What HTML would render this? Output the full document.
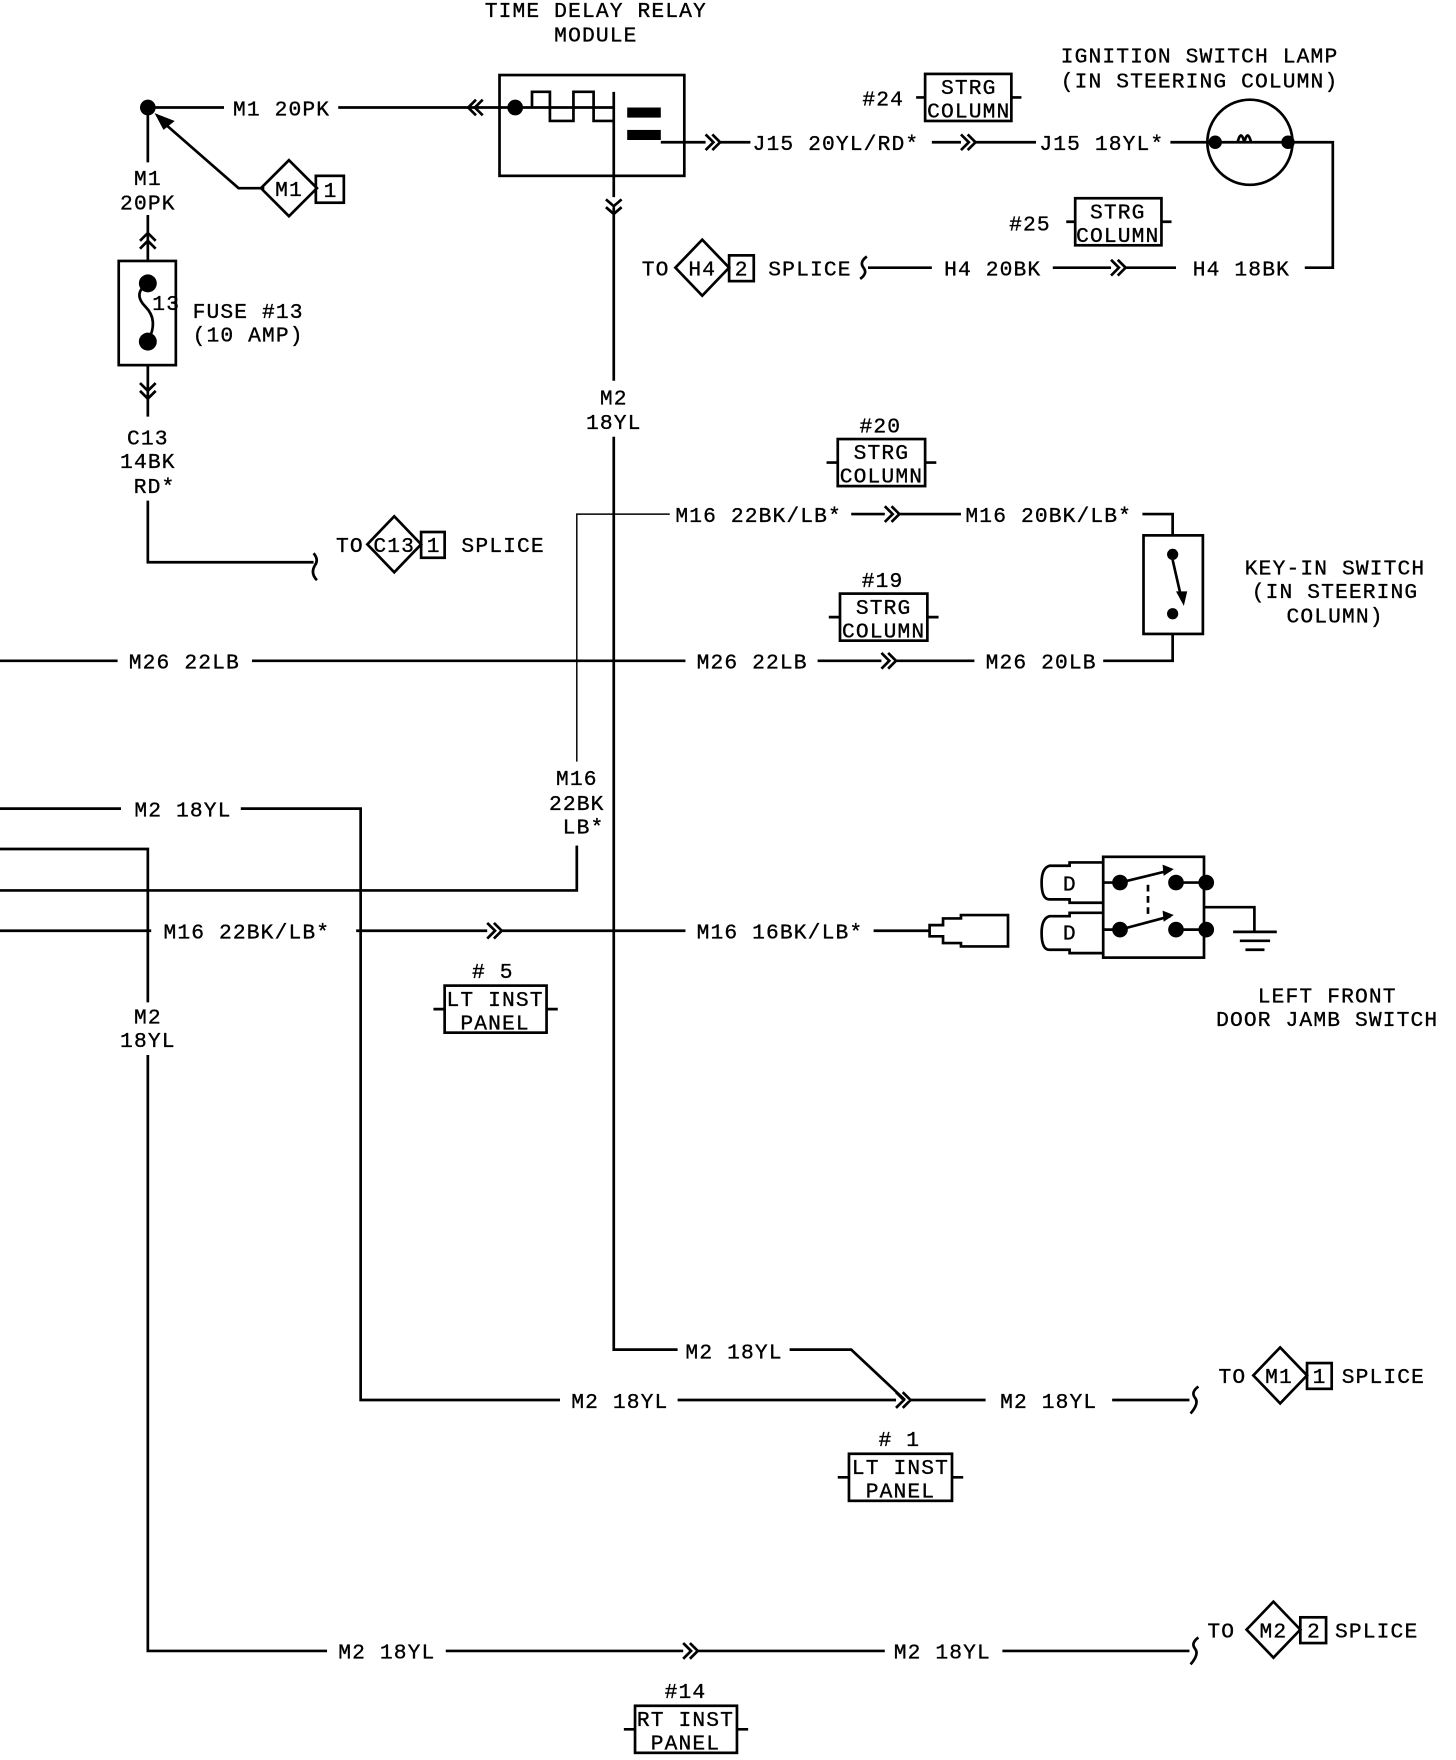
<!DOCTYPE html>
<html><head><meta charset="utf-8"><style>
html,body{margin:0;padding:0;background:#fff;}
svg{display:block;}
text{font-family:"Liberation Mono",monospace;font-size:19px;letter-spacing:1px;fill:#000;stroke:#000;stroke-width:0.3;}
</style></head><body>
<svg width="1456" height="1760" viewBox="0 0 1300 1571.4" preserveAspectRatio="none" xmlns="http://www.w3.org/2000/svg">
<g fill="none" stroke="#000" stroke-width="2.4">
<rect x="446" y="67" width="165" height="90"/>
<path d="M132 96H200M302 96H460"/>
<path d="M425 89L418 96L425 103M431 89L424 96L431 103"/>
<path d="M460 96H548M475 96V82H491V108H512V82H530V108H548V82V176"/>
<path d="M541 178L548 184L555 178M541 185L548 191L555 185M548 185V340M548 390V1205H605M705 1205H760L808 1250"/>
<path d="M590 127H630M630 120L637 127L630 134M636 120L643 127L636 134M643 127H670"/>
<path d="M832 127H858M858 120L865 127L858 134M864 120L871 127L864 134M871 127H925M1045 127H1190V239H1165"/>
<path d="M236 168H213L142 106"/>
<path d="M234 143L259 168L234 193L209 168Z" transform="translate(24 0)"/>
<rect x="282" y="157" width="25" height="24"/>
<path d="M132 96V145M132 192V233M125 215L132 208L139 215M125 222L132 215L139 222"/>
<rect x="106" y="233" width="51" height="93"/>
<path d="M132 253Q118 262 130 274Q142 286 132 305"/>
<path d="M132 326V372M125 342L132 349L139 342M125 349L132 356L139 349"/>
<path d="M132 447V502H280M280 494Q285 500 281 505Q277 512 283 518"/>
<path d="M328 486L352 461L376 486L352 511Z"/>
<rect x="376" y="475" width="21" height="23"/>
<circle cx="1116" cy="127" r="38"/>
<path d="M1105 127q3-12 6 0q3-12 6 0"/>
<rect x="826" y="66" width="77" height="42"/><path d="M818 87H826M903 87H912"/>
<rect x="960" y="177" width="77" height="42"/><path d="M952 198H960M1037 198H1046"/>
<path d="M603 239L627 214L651 239L627 264Z"/>
<rect x="651" y="228" width="22" height="23"/>
<path d="M774 229Q767 234 771 239Q775 244 768 249M775 239H832M940 239H992M992 232L999 239L992 246M998 232L1005 239L998 246M1005 239H1050"/>
<rect x="748" y="392" width="78" height="42"/><path d="M738 413H748M826 413H836"/>
<rect x="750" y="530" width="78" height="42"/><path d="M740 551H750M828 551H838"/>
<path stroke-width="1.3" d="M598 459H515V680M515 755V795"/>
<path d="M515 755V795H0"/>
<path d="M760 459H790M790 452L797 459L790 466M796 452L803 459L796 466M803 459H858M1020 459H1047V478"/>
<rect x="1021" y="478" width="53" height="88"/>
<path d="M1047 500L1055 535"/>
<path d="M0 590H105M225 590H612M730 590H787M787 583L794 590L787 597M793 583L800 590L793 597M800 590H870M985 590H1047V566"/>
<path d="M0 722H108M215 722H322V1250H500M605 1250H800M800 1243L807 1250L800 1257M806 1243L813 1250L806 1257M813 1250H880M993 1250H1062"/>
<path d="M1070 1238Q1063 1243 1067 1248Q1071 1253 1063 1262"/>
<path d="M1119 1228L1143 1203L1167 1228L1143 1253Z"/>
<rect x="1167" y="1217" width="22" height="23"/>
<path d="M0 758H132V895M132 942V1474H292M398 1474H610M610 1467L617 1474L610 1481M616 1467L623 1474L616 1481M623 1474H790M895 1474H1062"/>
<path d="M1070 1462Q1063 1467 1067 1472Q1071 1477 1063 1486"/>
<path d="M1113 1455L1137 1430L1161 1455L1137 1480Z"/>
<rect x="1161" y="1444" width="23" height="23"/>
<path d="M0 831H135M318 831H435M435 824L442 831L435 838M441 824L448 831L441 838M448 831H612M780 831H830"/>
<path d="M830 826H842V820H858V817H900V845H858V842H842V836H830Z"/>
<rect x="397" y="880" width="91" height="42"/><path d="M387 901H397M488 901H498"/>
<rect x="758" y="1298" width="92" height="42"/><path d="M748 1319H758M850 1319H860"/>
<rect x="567" y="1523" width="91" height="42"/><path d="M557 1544H567M658 1544H668"/>
<rect x="985" y="765" width="90" height="90"/>
<path d="M985 770H955V773H937Q930 775 930 788Q930 803 937 803H955V806H985M985 815H955V818H937Q930 820 930 833Q930 848 937 848H955V851H985"/>
<path d="M985 788H1000M985 830H1000M1000 788L1045 777M1000 830L1045 818M1050 788H1077M1050 830H1077"/>
<path d="M1025 790V820" stroke-dasharray="6 4"/>
<path d="M1075 810H1120V832M1101 832H1140M1107 840H1134M1112 848H1129"/>
</g>
<g fill="#000">
<circle cx="132" cy="96" r="7"/><circle cx="460" cy="96" r="7"/>
<path d="M138 101L156 108L146 116Z"/>
<rect x="560" y="96" width="30" height="9"/><rect x="560" y="116" width="30" height="9"/>
<circle cx="132" cy="253" r="8"/><circle cx="132" cy="305" r="8"/>
<circle cx="1085" cy="127" r="6"/><circle cx="1150" cy="127" r="6"/>
<circle cx="1047" cy="495" r="5"/><circle cx="1047" cy="548" r="5"/>
<path d="M1050 528L1060 528L1057 541Z"/>
<circle cx="1000" cy="788" r="7"/><circle cx="1050" cy="788" r="7"/><circle cx="1077" cy="788" r="7"/>
<circle cx="1000" cy="830" r="7"/><circle cx="1050" cy="830" r="7"/><circle cx="1077" cy="830" r="7"/>
<path d="M1038 772L1048 776L1039 782Z"/><path d="M1038 813L1048 817L1039 823Z"/>
</g>
<g>
<text x="532" y="15" text-anchor="middle">TIME DELAY RELAY</text>
<text x="532" y="37" text-anchor="middle">MODULE</text>
<text x="208" y="103">M1 20PK</text>
<text x="258" y="175" text-anchor="middle">M1</text><text x="289" y="176">1</text>
<text x="132" y="165" text-anchor="middle">M1</text>
<text x="132" y="187" text-anchor="middle">20PK</text>
<text x="136" y="277">13</text>
<text x="172" y="284">FUSE #13</text>
<text x="172" y="305">(10 AMP)</text>
<text x="132" y="397" text-anchor="middle">C13</text>
<text x="132" y="418" text-anchor="middle">14BK</text>
<text x="138" y="440" text-anchor="middle">RD*</text>
<text x="300" y="493">TO</text><text x="352" y="493" text-anchor="middle">C13</text><text x="381" y="493">1</text><text x="412" y="493">SPLICE</text>
<text x="672" y="134">J15 20YL/RD*</text>
<text x="928" y="134">J15 18YL*</text>
<text x="1071" y="56" text-anchor="middle">IGNITION SWITCH LAMP</text>
<text x="1071" y="78" text-anchor="middle">(IN STEERING COLUMN)</text>
<text x="770" y="94">#24</text>
<text x="865" y="84" text-anchor="middle">STRG</text><text x="865" y="105" text-anchor="middle">COLUMN</text>
<text x="901" y="206">#25</text>
<text x="998" y="195" text-anchor="middle">STRG</text><text x="998" y="216" text-anchor="middle">COLUMN</text>
<text x="573" y="246">TO</text><text x="627" y="246" text-anchor="middle">H4</text><text x="656" y="246">2</text><text x="686" y="246">SPLICE</text>
<text x="843" y="246">H4 20BK</text>
<text x="1065" y="246">H4 18BK</text>
<text x="548" y="361" text-anchor="middle">M2</text>
<text x="548" y="383" text-anchor="middle">18YL</text>
<text x="786" y="386" text-anchor="middle">#20</text>
<text x="787" y="410" text-anchor="middle">STRG</text><text x="787" y="431" text-anchor="middle">COLUMN</text>
<text x="603" y="466">M16 22BK/LB*</text>
<text x="862" y="466">M16 20BK/LB*</text>
<text x="1192" y="513" text-anchor="middle">KEY-IN SWITCH</text>
<text x="1192" y="534" text-anchor="middle">(IN STEERING</text>
<text x="1192" y="556" text-anchor="middle">COLUMN)</text>
<text x="788" y="524" text-anchor="middle">#19</text>
<text x="789" y="548" text-anchor="middle">STRG</text><text x="789" y="569" text-anchor="middle">COLUMN</text>
<text x="115" y="597">M26 22LB</text>
<text x="622" y="597">M26 22LB</text>
<text x="880" y="597">M26 20LB</text>
<text x="515" y="701" text-anchor="middle">M16</text>
<text x="515" y="723" text-anchor="middle">22BK</text>
<text x="521" y="744" text-anchor="middle">LB*</text>
<text x="120" y="729">M2 18YL</text>
<text x="146" y="838">M16 22BK/LB*</text>
<text x="622" y="838">M16 16BK/LB*</text>
<text x="440" y="873" text-anchor="middle"># 5</text>
<text x="442" y="898" text-anchor="middle">LT INST</text><text x="442" y="919" text-anchor="middle">PANEL</text>
<text x="949" y="795">D</text><text x="949" y="839">D</text>
<text x="1185" y="895" text-anchor="middle">LEFT FRONT</text>
<text x="1185" y="916" text-anchor="middle">DOOR JAMB SWITCH</text>
<text x="132" y="914" text-anchor="middle">M2</text>
<text x="132" y="935" text-anchor="middle">18YL</text>
<text x="612" y="1213">M2 18YL</text>
<text x="510" y="1257">M2 18YL</text>
<text x="893" y="1257">M2 18YL</text>
<text x="1088" y="1235">TO</text><text x="1142" y="1235" text-anchor="middle">M1</text><text x="1172" y="1235">1</text><text x="1198" y="1235">SPLICE</text>
<text x="803" y="1291" text-anchor="middle"># 1</text>
<text x="804" y="1316" text-anchor="middle">LT INST</text><text x="804" y="1337" text-anchor="middle">PANEL</text>
<text x="302" y="1481">M2 18YL</text>
<text x="798" y="1481">M2 18YL</text>
<text x="1078" y="1462">TO</text><text x="1137" y="1462" text-anchor="middle">M2</text><text x="1167" y="1462">2</text><text x="1192" y="1462">SPLICE</text>
<text x="612" y="1516" text-anchor="middle">#14</text>
<text x="612" y="1541" text-anchor="middle">RT INST</text><text x="612" y="1562" text-anchor="middle">PANEL</text>
</g>
</svg>
</body></html>
